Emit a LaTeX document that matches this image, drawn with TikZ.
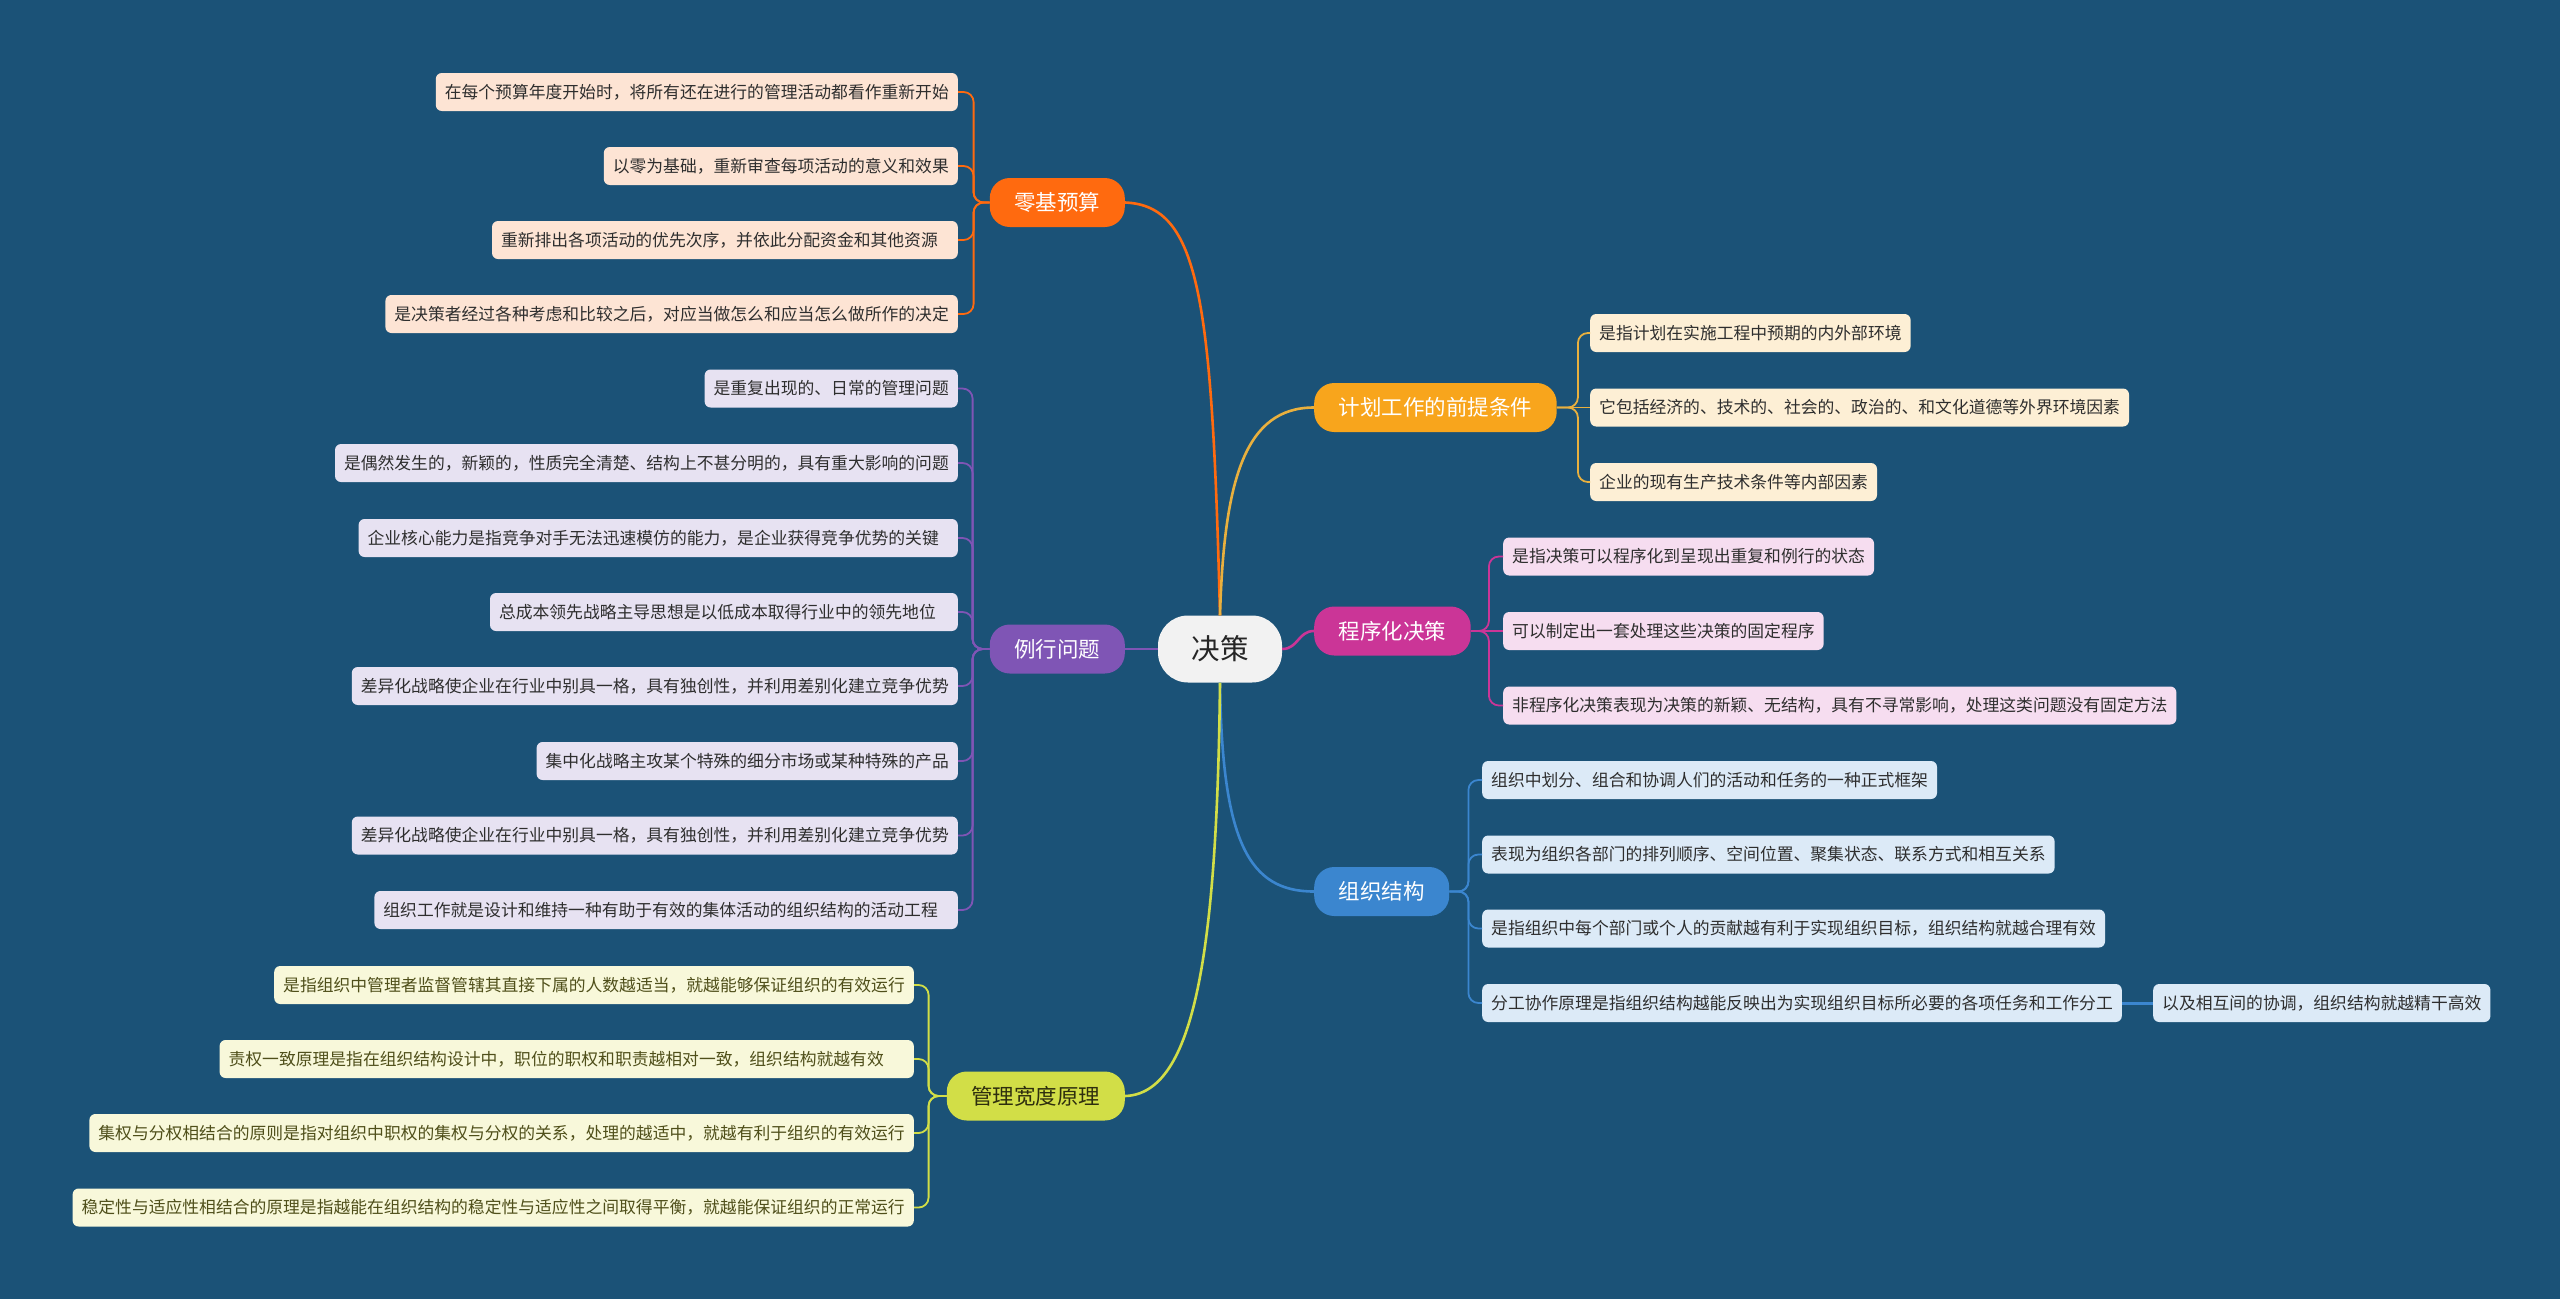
\documentclass[tikz,border=0pt]{standalone}
\usepackage{fontspec}
\setmainfont{Noto Sans CJK SC}

\definecolor{bgblue}{HTML}{1B5277}
\definecolor{rootfill}{HTML}{F2F2F2}
\definecolor{roottext}{HTML}{262626}
\definecolor{leaftext}{HTML}{2E2E2E}
\definecolor{zerofill}{HTML}{FF6A0F}
\definecolor{zeroleaf}{HTML}{FDE4D4}
\definecolor{routfill}{HTML}{7F55B5}
\definecolor{routleaf}{HTML}{E7E2F2}
\definecolor{spanfill}{HTML}{D2DE47}
\definecolor{spanleaf}{HTML}{F8F8DA}
\definecolor{spantext}{HTML}{2E2E0E}
\definecolor{spanleaftext}{HTML}{4F4F1A}
\definecolor{planfill}{HTML}{F8A51C}
\definecolor{planleaf}{HTML}{FDEFD5}
\definecolor{planline}{HTML}{E9B03E}
\definecolor{progfill}{HTML}{CB3597}
\definecolor{progleaf}{HTML}{F6DDF0}
\definecolor{orgfill}{HTML}{3B86CF}
\definecolor{orgleaf}{HTML}{DCEAF7}

\begin{document}
\begin{tikzpicture}[x=1pt, y=-1pt,
    leaf/.style={rounded corners=6pt, fill=#1, text=leaftext,
        minimum height=38pt, inner xsep=9pt, inner ysep=0pt,
        font=\fontsize{16.8}{18}\selectfont},
    branch/.style={rounded corners=20pt, fill=#1, text=white,
        minimum height=49pt, inner xsep=24.5pt, inner ysep=0pt,
        font=\fontsize{21.5}{24}\selectfont},
    link/.style={draw=#1, line width=2.6pt},
    twig/.style={draw=#1, line width=1.8pt, rounded corners=10pt}]

    % Background
    \fill[bgblue] (0,0) rectangle (2560,1299);

    % Root
    \node[fill=rootfill, text=roottext, rounded corners=30pt,
        minimum height=67pt, inner xsep=33.5pt, inner ysep=0pt,
        font=\fontsize{28.5}{30}\selectfont] (root) at (1220,649) {决策};

    % Main branches
    \node[branch=zerofill, anchor=east] (zb) at (1125,202.5) {零基预算};
    \node[branch=routfill, anchor=east] (rb) at (1125,649) {例行问题};
    \node[branch=spanfill, anchor=east, text=spantext] (sb) at (1125,1096) {管理宽度原理};
    \node[branch=planfill, anchor=west] (pb) at (1314,407.5) {计划工作的前提条件};
    \node[branch=progfill, anchor=west] (gb) at (1314,631) {程序化决策};
    \node[branch=orgfill, anchor=west] (ob) at (1314,891.5) {组织结构};

    % Links from root
    \draw[link=zerofill] (root.north) .. controls +(-8,-316) and +(75,3) .. (zb.east);
    \draw[link=planline] (root.north) .. controls +(4,-136) and +(-69,0) .. (pb.west);
    \draw[link=routfill] (root.west) -- (rb.east);
    \draw[link=progfill] (root.east) .. controls +(16,0) and +(-16,0) .. (gb.west);
    \draw[link=orgfill] (root.south) .. controls +(2,160) and +(-65,0) .. (ob.west);
    \draw[link=spanfill] (root.south) .. controls +(-3,267) and +(70,-2) .. (sb.east);

    % Zero-based budget leaves
    \foreach \y/\txt [count=\i] in {
        92/在每个预算年度开始时，将所有还在进行的管理活动都看作重新开始,
        166/以零为基础，重新审查每项活动的意义和效果,
        240/重新排出各项活动的优先次序，并依此分配资金和其他资源\hspace*{11pt},
        314/是决策者经过各种考虑和比较之后，对应当做怎么和应当怎么做所作的决定}{
        \node[leaf=zeroleaf, anchor=east] (z\i) at (958,\y) {\txt};
        \draw[twig=zerofill] (zb.west) -- ++(-16,0) |- (z\i.east);
    }

    % Routine problem leaves
    \foreach \y/\txt [count=\i] in {
        388.5/是重复出现的、日常的管理问题,
        463/是偶然发生的，新颖的，性质完全清楚、结构上不甚分明的，具有重大影响的问题,
        538/企业核心能力是指竞争对手无法迅速模仿的能力，是企业获得竞争优势的关键\hspace*{10pt},
        612/总成本领先战略主导思想是以低成本取得行业中的领先地位\hspace*{13pt},
        686/差异化战略使企业在行业中别具一格，具有独创性，并利用差别化建立竞争优势,
        761/集中化战略主攻某个特殊的细分市场或某种特殊的产品,
        835.5/差异化战略使企业在行业中别具一格，具有独创性，并利用差别化建立竞争优势,
        910/组织工作就是设计和维持一种有助于有效的集体活动的组织结构的活动工程\hspace*{11pt}}{
        \node[leaf=routleaf, anchor=east] (r\i) at (958,\y) {\txt};
        \draw[twig=routfill] (rb.west) -- ++(-17,0) |- (r\i.east);
    }

    % Span of management leaves
    \foreach \y/\txt [count=\i] in {
        985/是指组织中管理者监督管辖其直接下属的人数越适当，就越能够保证组织的有效运行,
        1059/责权一致原理是指在组织结构设计中，职位的职权和职责越相对一致，组织结构就越有效\hspace*{21pt},
        1133/集权与分权相结合的原则是指对组织中职权的集权与分权的关系，处理的越适中，就越有利于组织的有效运行,
        1207.5/稳定性与适应性相结合的原理是指越能在组织结构的稳定性与适应性之间取得平衡，就越能保证组织的正常运行}{
        \node[leaf=spanleaf, anchor=east, text=spanleaftext] (s\i) at (914,\y) {\txt};
        \draw[twig=spanfill] (sb.west) -- ++(-18,0) |- (s\i.east);
    }

    % Planning premise leaves
    \foreach \y/\txt [count=\i] in {
        333/是指计划在实施工程中预期的内外部环境,
        407.5/它包括经济的、技术的、社会的、政治的、和文化道德等外界环境因素,
        482/企业的现有生产技术条件等内部因素}{
        \node[leaf=planleaf, anchor=west] (p\i) at (1590,\y) {\txt};
    }
    \foreach \i in {1,3}
        \draw[twig=planline] (pb.east) -- ++(21,0) |- (p\i.west);
    \draw[twig=planline] (pb.east) -- (p2.west);

    % Programmed decision leaves
    \foreach \y/\txt [count=\i] in {
        556.5/是指决策可以程序化到呈现出重复和例行的状态,
        631/可以制定出一套处理这些决策的固定程序,
        705.5/非程序化决策表现为决策的新颖、无结构，具有不寻常影响，处理这类问题没有固定方法}{
        \node[leaf=progleaf, anchor=west] (g\i) at (1503,\y) {\txt};
    }
    \foreach \i in {1,3}
        \draw[twig=progfill] (gb.east) -- ++(18,0) |- (g\i.west);
    \draw[twig=progfill] (gb.east) -- (g2.west);

    % Organisation structure leaves
    \foreach \y/\txt [count=\i] in {
        780/组织中划分、组合和协调人们的活动和任务的一种正式框架,
        854.5/表现为组织各部门的排列顺序、空间位置、聚集状态、联系方式和相互关系,
        928.5/是指组织中每个部门或个人的贡献越有利于实现组织目标，组织结构就越合理有效,
        1003/分工协作原理是指组织结构越能反映出为实现组织目标所必要的各项任务和工作分工}{
        \node[leaf=orgleaf, anchor=west] (o\i) at (1482,\y) {\txt};
        \draw[twig=orgfill] (ob.east) -- ++(19,0) |- (o\i.west);
    }
    \node[leaf=orgleaf, anchor=west] (o5) at (2153,1003) {以及相互间的协调，组织结构就越精干高效};
    \draw[link=orgfill, line width=3pt] (o4.east) -- (o5.west);

\end{tikzpicture}
\end{document}
